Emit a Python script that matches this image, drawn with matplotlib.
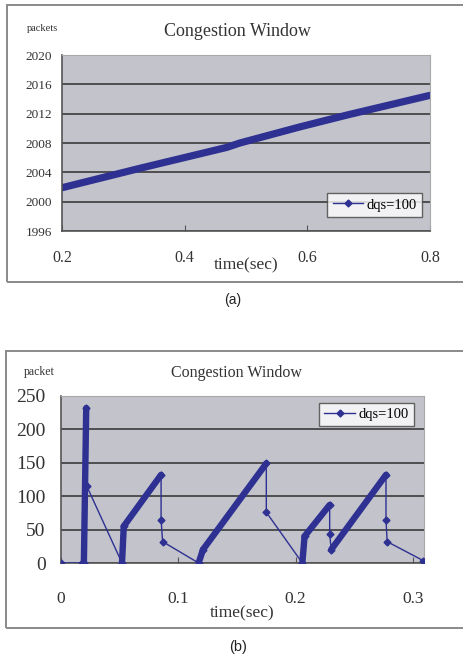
import matplotlib
matplotlib.use("Agg")
import matplotlib.pyplot as plt
from matplotlib.patches import Rectangle

# ---------------------------------------------------------------------------
# DATA
# ---------------------------------------------------------------------------

# (a) congestion window, long run
time_a = [0.2, 0.327, 0.4685, 0.49, 0.588, 0.664, 0.8]
cwnd_a = [2001.9, 2004.55, 2007.4, 2008.0, 2010.2, 2011.8, 2014.5]
xticks_a = [0.2, 0.4, 0.6, 0.8]
yticks_a = [1996, 2000, 2004, 2008, 2012, 2016, 2020]

# (b) congestion window, first 0.3 s (sample points along the trace)
time_b = [0.0, 0.018, 0.0195, 0.0215, 0.022, 0.052, 0.0535, 0.0853, 0.0853,
          0.0866, 0.1173, 0.121, 0.175, 0.175, 0.2057, 0.2076, 0.229, 0.229,
          0.2303, 0.277, 0.277, 0.278, 0.3088]
cwnd_b = [0, 0, 0, 232, 115, 0, 55, 132, 65,
          32, 0, 20, 149, 76, 0, 40, 87, 44,
          20, 132, 65, 32, 3.5]
# index pairs of the densely sampled ramps (drawn thick)
ramps_b = [(2, 3), (5, 6), (6, 7), (10, 11), (11, 12), (14, 15), (15, 16), (18, 19)]
xticks_b = [0, 0.1, 0.2, 0.3]
yticks_b = [0, 50, 100, 150, 200, 250]

LINE = "#2E3192"
BG = "#C2C3CB"
GRID = "#2F2F2F"
SERIF = ["Liberation Serif", "DejaVu Serif"]

W, H = 463, 663
fig = plt.figure(figsize=(W / 100, H / 100), dpi=100)


def px_axes(x0, y0, x1, y1):
    # pixel box (top-left origin) -> figure fraction axes
    return fig.add_axes([x0 / W, 1 - y1 / H, (x1 - x0) / W, (y1 - y0) / H])


def frame(x0, y0, x1, y1):
    fig.patches.append(Rectangle((x0 / W, 1 - y1 / H), (x1 - x0) / W, (y1 - y0) / H,
                                 transform=fig.transFigure, fill=False,
                                 edgecolor="#8a8a8a", linewidth=1.4))


def style_axes(ax, xticks, yticks, xfs, yfs, xpad, ypad):
    ax.set_facecolor(BG)
    ax.set_xticks(xticks)
    ax.set_yticks(yticks)
    ax.set_xticklabels([f"{t:g}" for t in xticks], fontsize=xfs, family=SERIF, color="#333333")
    ax.set_yticklabels([f"{t:g}" for t in yticks], fontsize=yfs, family=SERIF, color="#333333")
    ax.tick_params(axis="x", direction="in", length=4, color="#555555", pad=xpad)
    ax.tick_params(axis="y", length=0, pad=ypad)
    ax.yaxis.grid(True, color=GRID, linewidth=1.1)
    # top gridline sits on the light plot-area border
    ax.yaxis.get_gridlines()[-1].set_visible(False)
    ax.set_axisbelow(True)
    ax.spines["left"].set_color("#555555")
    ax.spines["bottom"].set_color("#555555")
    ax.spines["left"].set_linewidth(1.2)
    ax.spines["bottom"].set_linewidth(1.2)
    ax.spines["top"].set_color("#a8a8a8")
    ax.spines["right"].set_color("#a8a8a8")


def legend(ax, center):
    h, = ax.plot([], [], color=LINE, linewidth=1, marker="D", markersize=3.5)
    lg = ax.legend([h], ["dqs=100"], loc="center", bbox_to_anchor=center,
                   prop={"family": SERIF, "size": 10.5}, frameon=True, fancybox=False,
                   handlelength=2.1, handletextpad=0.25, borderpad=0.35,
                   borderaxespad=0)
    lg.get_frame().set_edgecolor("#444444")
    lg.get_frame().set_linewidth(1.0)


# ---------------------------------------------------------------------------
# (a)
# ---------------------------------------------------------------------------
frame(7, 5, 475, 282)
ax1 = px_axes(62, 55, 430, 231)
style_axes(ax1, xticks_a, yticks_a, 11.5, 9.5, 14, 7)
ax1.plot(time_a, cwnd_a, color=LINE, linewidth=5.2, solid_capstyle="round")
ax1.set_xlim(0.2, 0.8)
ax1.set_ylim(1996, 2020)
ax1.text(0.478, 1.136, "Congestion Window", transform=ax1.transAxes,
         ha="center", va="center", fontsize=13, family=SERIF, color="#333333")
ax1.text(-0.052, 1.148, "packets", transform=ax1.transAxes,
         ha="center", va="center", fontsize=7.5, family=SERIF, color="#333333")
ax1.text(0.5, -0.193, "time(sec)", transform=ax1.transAxes,
         ha="center", va="center", fontsize=12.5, family=SERIF, color="#333333")
legend(ax1, (0.85, 0.148))
fig.text(233 / W, 1 - 300 / H, "(a)", ha="center", va="center",
         fontsize=10, family=["Liberation Sans", "DejaVu Sans"], color="#222222")

# ---------------------------------------------------------------------------
# (b)
# ---------------------------------------------------------------------------
frame(6, 351, 475, 628)
ax2 = px_axes(61, 396, 424, 563)
style_axes(ax2, xticks_b, yticks_b, 12.5, 14, 20, 11)
ax2.plot(time_b, cwnd_b, color=LINE, linewidth=1.0, marker="D", markersize=3.5,
         zorder=3)
for i, j in ramps_b:
    ax2.plot(time_b[i:j + 1], cwnd_b[i:j + 1], color=LINE, linewidth=4.6,
             solid_capstyle="round", zorder=4)
ax2.set_xlim(0, 0.3094)
ax2.set_ylim(0, 250)
ax2.text(0.482, 1.138, "Congestion Window", transform=ax2.transAxes,
         ha="center", va="center", fontsize=11.5, family=SERIF, color="#333333")
ax2.text(-0.061, 1.144, "packet", transform=ax2.transAxes,
         ha="center", va="center", fontsize=8.5, family=SERIF, color="#333333")
ax2.text(0.4986, -0.30, "time(sec)", transform=ax2.transAxes,
         ha="center", va="center", fontsize=12.5, family=SERIF, color="#333333")
legend(ax2, (0.842, 0.889))
fig.text(238 / W, 1 - 647 / H, "(b)", ha="center", va="center",
         fontsize=10.5, family=["Liberation Sans", "DejaVu Sans"], color="#222222")

fig.savefig("out.png", dpi=100)
